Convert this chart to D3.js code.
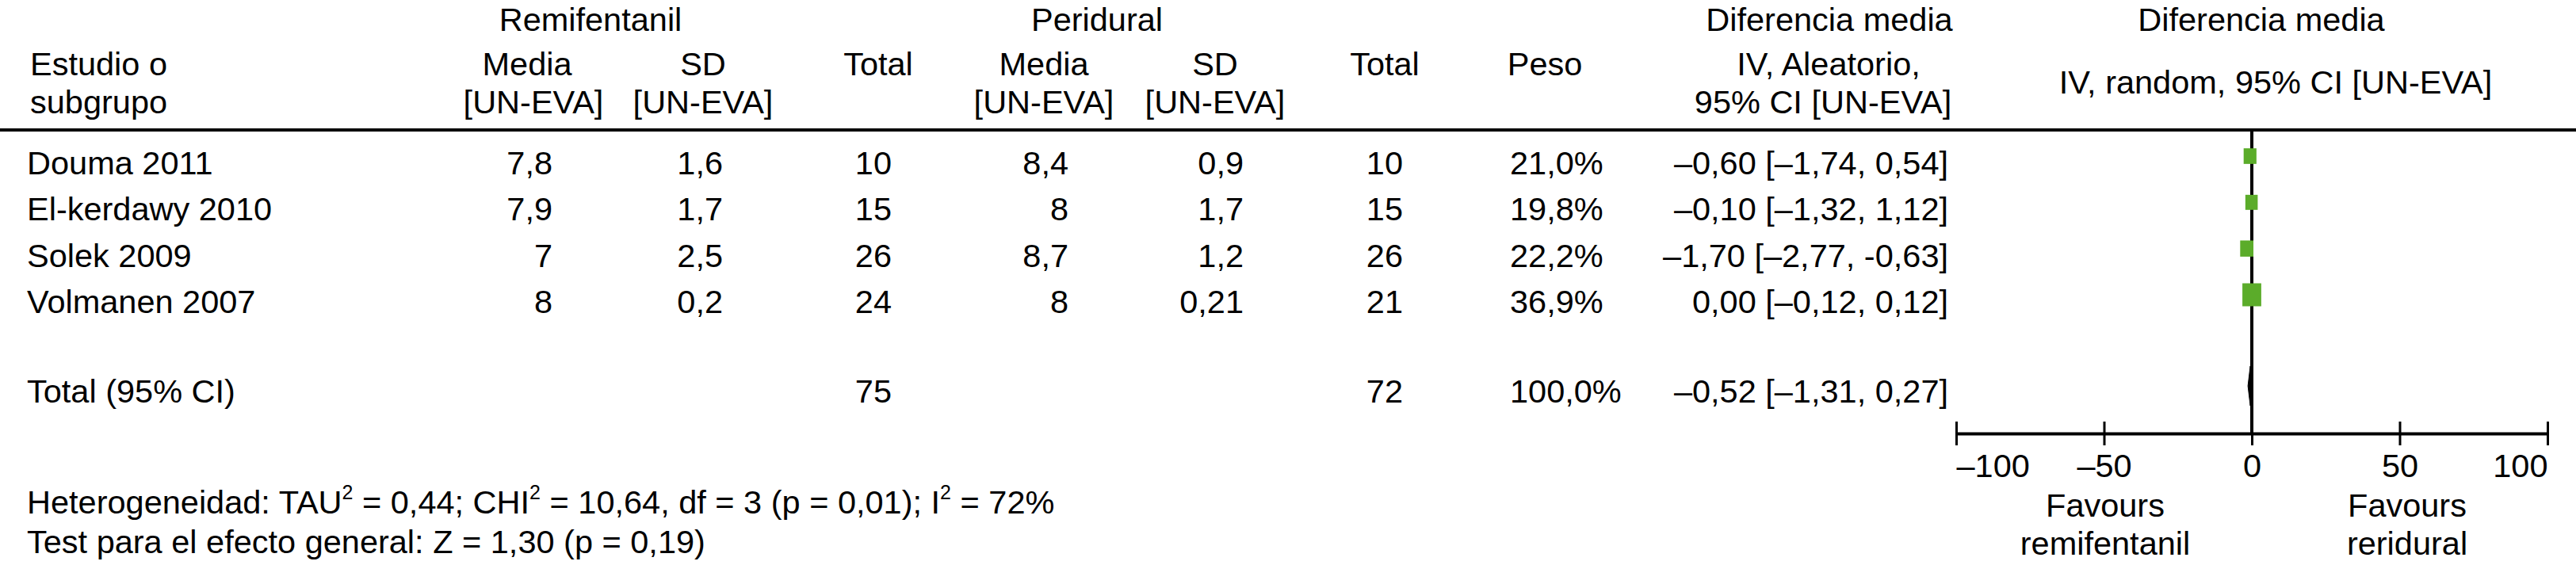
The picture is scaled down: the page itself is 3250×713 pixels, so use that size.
<!DOCTYPE html>
<html>
<head>
<meta charset="utf-8">
<script src="https://cdn.jsdelivr.net/npm/d3@7"></script>
<style>
  html, body { margin: 0; padding: 0; background: #fff; }
  svg text { font-family: "Liberation Sans", Arial, Helvetica, sans-serif; fill: #000; }
</style>
</head>
<body>
<svg id="chart" width="3250" height="713"></svg>
<script>
// ---------- data ----------
const studies = ["Douma 2011", "El-kerdawy 2010", "Solek 2009", "Volmanen 2007"];
const remMean = [7.8, 7.9, 7, 8];
const remSD = [1.6, 1.7, 2.5, 0.2];
const remTotal = [10, 15, 26, 24];
const periMean = [8.4, 8, 8.7, 8];
const periSD = [0.9, 1.7, 1.2, 0.21];
const periTotal = [10, 15, 26, 21];
const weights = [21.0, 19.8, 22.2, 36.9];
const md = [-0.60, -0.10, -1.70, 0.00];
const ciLow = [-1.74, -1.32, -2.77, -0.12];
const ciHigh = [0.54, 1.12, -0.63, 0.12];
const totalRem = 75;
const totalPeri = 72;
const totalWeight = 100.0;
const totalMD = -0.52;
const totalLow = -1.31;
const totalHigh = 0.27;
const axisTicks = [-100, -50, 0, 50, 100];
const heterogeneity = { tau2: "0,44", chi2: "10,64", df: "3", p: "0,01", i2: "72%" };
const overallTest = "Test para el efecto general: Z = 1,30 (p = 0,19)";

// ---------- helpers ----------
const comma = v => String(v).replace(".", ",");
const dec = (v, n) => v.toFixed(n).replace(".", ",");
const dashNum = (v, n) => (v < 0 ? "\u2013" + dec(-v, n) : dec(v, n));
const hyNum = (v, n) => (v < 0 ? "-" + dec(-v, n) : dec(v, n));

const svg = d3.select("#chart");
const FS = 41.5;

// ---------- scales ----------
const x = d3.scaleLinear().domain([-100, 100]).range([2468, 3214]);
const rowY = d3.scaleLinear().domain([0, 3]).range([220, 395]);
const totalY = 508;
const sizeScale = d3.scaleLinear().domain([19.8, 36.9]).range([19, 29]);

function txt(xp, yp, s, anchor, size) {
  return svg.append("text").attr("x", xp).attr("y", yp)
    .attr("text-anchor", anchor || "start")
    .attr("font-size", size || FS).text(s);
}

// ---------- headers ----------
txt(745, 39, "Remifentanil", "middle");
txt(1384, 39, "Peridural", "middle");
txt(2308, 39, "Diferencia media", "middle");
txt(2853, 39, "Diferencia media", "middle");

txt(38, 95, "Estudio o");
txt(38, 143, "subgrupo");
txt(665, 95, "Media", "middle");
txt(673, 143, "[UN-EVA]", "middle");
txt(887, 95, "SD", "middle");
txt(887, 143, "[UN-EVA]", "middle");
txt(1108, 95, "Total", "middle");
txt(1317, 95, "Media", "middle");
txt(1317, 143, "[UN-EVA]", "middle");
txt(1533, 95, "SD", "middle");
txt(1533, 143, "[UN-EVA]", "middle");
txt(1747, 95, "Total", "middle");
txt(1949, 95, "Peso", "middle");
txt(2307, 95, "IV, Aleatorio,", "middle");
txt(2300, 143, "95% CI [UN-EVA]", "middle");
txt(2871, 118, "IV, random, 95% CI [UN-EVA]", "middle");

// header rule
svg.append("line").attr("x1", 0).attr("x2", 3250).attr("y1", 164).attr("y2", 164)
  .attr("stroke", "#000").attr("stroke-width", 4);

// zero line
svg.append("line").attr("x1", x(0)).attr("x2", x(0)).attr("y1", 164).attr("y2", 547)
  .attr("stroke", "#000").attr("stroke-width", 4);

// ---------- study rows ----------
studies.forEach((s, i) => {
  const y = rowY(i);
  txt(34, y, s);
  txt(697, y, comma(remMean[i]), "end");
  txt(912, y, comma(remSD[i]), "end");
  txt(1125, y, remTotal[i], "end");
  txt(1348, y, comma(periMean[i]), "end");
  txt(1569, y, comma(periSD[i]), "end");
  txt(1770, y, periTotal[i], "end");
  txt(1905, y, dec(weights[i], 1) + "%", "start");
  txt(2458, y, dashNum(md[i], 2) + " [" + dashNum(ciLow[i], 2) + ", " + hyNum(ciHigh[i], 2) + "]", "end");
});

// squares
svg.append("g").selectAll("rect").data(studies).join("rect")
  .attr("x", (d, i) => x(md[i]) - sizeScale(weights[i]) * 0.82 / 2)
  .attr("y", (d, i) => rowY(i) - 23 - sizeScale(weights[i]) / 2)
  .attr("width", (d, i) => sizeScale(weights[i]) * 0.82)
  .attr("height", (d, i) => sizeScale(weights[i]))
  .attr("fill", "#5bac2a");

// ---------- total row ----------
txt(34, totalY, "Total (95% CI)");
txt(1125, totalY, totalRem, "end");
txt(1770, totalY, totalPeri, "end");
txt(1905, totalY, dec(totalWeight, 1) + "%", "start");
txt(2458, totalY, dashNum(totalMD, 2) + " [" + dashNum(totalLow, 2) + ", " + dashNum(totalHigh, 2) + "]", "end");

const dc = totalY - 21, dh = 25;
svg.append("path")
  .attr("d", `M${x(totalLow)},${dc} L${x(totalMD)},${dc - dh} L${x(totalHigh)},${dc} L${x(totalMD)},${dc + dh} Z`)
  .attr("fill", "#000").attr("stroke", "#000").attr("stroke-width", 1);

// ---------- axis ----------
const axisY = 547;
const axis = d3.axisBottom(x).tickValues(axisTicks).tickSizeOuter(0)
  .tickFormat(d => (d < 0 ? "\u2013" + Math.abs(d) : String(d)));
const ag = svg.append("g").attr("transform", `translate(0,${axisY})`).call(axis);
ag.select(".domain").attr("stroke", "#000").attr("stroke-width", 4);
ag.selectAll(".tick line").attr("y1", -15).attr("y2", 15).attr("stroke", "#000").attr("stroke-width", 3);
const lo = axisTicks[0], hi = axisTicks[axisTicks.length - 1];
ag.selectAll(".tick text").attr("y", 55).attr("dy", null)
  .attr("text-anchor", d => (d === lo ? "start" : d === hi ? "end" : "middle"))
  .attr("font-size", FS).attr("font-family", "Liberation Sans, Arial, sans-serif").attr("fill", "#000");

txt(2656, 652, "Favours", "middle");
txt(2656, 700, "remifentanil", "middle");
txt(3037, 652, "Favours", "middle");
txt(3037, 700, "reridural", "middle");

// ---------- footnotes ----------
const het = svg.append("text").attr("x", 34).attr("y", 648).attr("font-size", FS);
function sup(t) { het.append("tspan").attr("font-size", 25).attr("dy", -18).text(t); }
function norm(t) { het.append("tspan").attr("font-size", FS).attr("dy", 18).text(t); }
het.append("tspan").text("Heterogeneidad: TAU");
sup("2");
norm(" = " + heterogeneity.tau2 + "; CHI");
sup("2");
norm(" = " + heterogeneity.chi2 + ", df = " + heterogeneity.df + " (p = " + heterogeneity.p + "); I");
sup("2");
norm(" = " + heterogeneity.i2);

txt(34, 698, overallTest);
</script>
</body>
</html>
